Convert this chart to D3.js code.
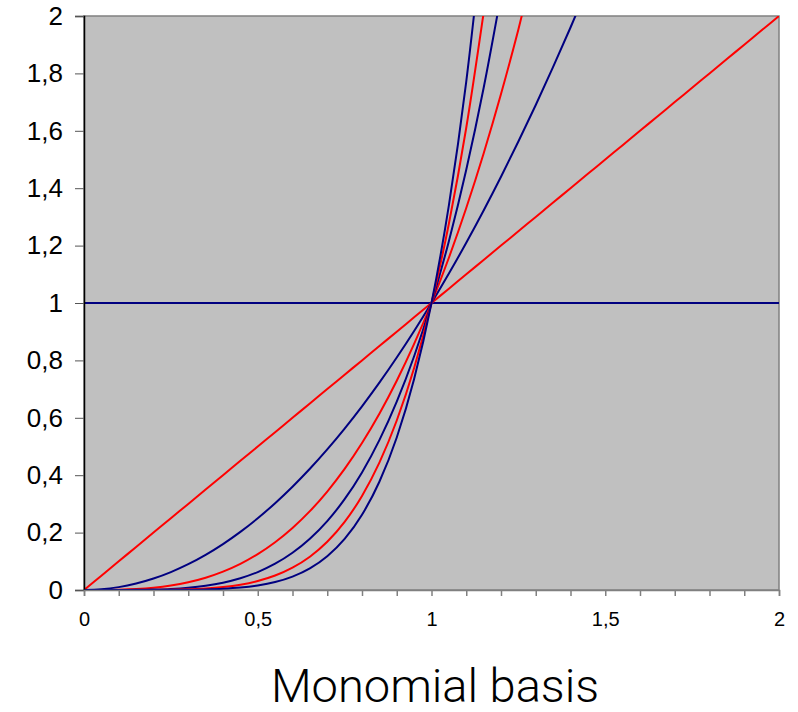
<!DOCTYPE html>
<html>
<head>
<meta charset="utf-8">
<script src="https://cdn.jsdelivr.net/npm/d3@7"></script>
<style>
  body { margin: 0; background: #fff; }
</style>
</head>
<body>
<div id="chart"></div>
<script>
// sample points (x from 0 to 2, step 0.05)
var xs = [0, 0.05, 0.1, 0.15, 0.2, 0.25, 0.3, 0.35, 0.4, 0.45, 0.5, 0.55, 0.6, 0.65, 0.7, 0.75, 0.8, 0.85, 0.9, 0.95,
          1, 1.05, 1.1, 1.15, 1.2, 1.25, 1.3, 1.35, 1.4, 1.45, 1.5, 1.55, 1.6, 1.65, 1.7, 1.75, 1.8, 1.85, 1.9, 1.95, 2];
var p0 = [1, 1, 1, 1, 1, 1, 1, 1, 1, 1, 1, 1, 1, 1, 1, 1, 1, 1, 1, 1, 1, 1, 1, 1, 1, 1, 1, 1, 1, 1, 1, 1, 1, 1, 1, 1, 1, 1, 1, 1, 1];
var p1 = [0, 0.05, 0.1, 0.15, 0.2, 0.25, 0.3, 0.35, 0.4, 0.45, 0.5, 0.55, 0.6, 0.65, 0.7, 0.75, 0.8, 0.85, 0.9, 0.95,
          1, 1.05, 1.1, 1.15, 1.2, 1.25, 1.3, 1.35, 1.4, 1.45, 1.5, 1.55, 1.6, 1.65, 1.7, 1.75, 1.8, 1.85, 1.9, 1.95, 2];
var p2 = [0, 0.0025, 0.01, 0.0225, 0.04, 0.0625, 0.09, 0.1225, 0.16, 0.2025, 0.25, 0.3025, 0.36, 0.4225, 0.49, 0.5625, 0.64, 0.7225, 0.81, 0.9025,
          1, 1.1025, 1.21, 1.3225, 1.44, 1.5625, 1.69, 1.8225, 1.96, 2.1025];
var p3 = [0, 0.000125, 0.001, 0.003375, 0.008, 0.015625, 0.027, 0.042875, 0.064, 0.091125, 0.125, 0.166375, 0.216, 0.274625, 0.343, 0.421875, 0.512, 0.614125, 0.729, 0.857375,
          1, 1.157625, 1.331, 1.520875, 1.728, 1.953125, 2.197];
var p4 = [0, 0.000006, 0.0001, 0.000506, 0.0016, 0.003906, 0.0081, 0.015006, 0.0256, 0.041006, 0.0625, 0.091506, 0.1296, 0.178506, 0.2401, 0.316406, 0.4096, 0.522006, 0.6561, 0.814506,
          1, 1.215506, 1.4641, 1.749006, 2.0736];
var p5 = [0, 0, 0.00001, 0.000076, 0.00032, 0.000977, 0.00243, 0.005252, 0.01024, 0.018453, 0.03125, 0.050328, 0.07776, 0.116029, 0.16807, 0.237305, 0.32768, 0.443705, 0.59049, 0.773781,
          1, 1.276282, 1.61051, 2.011357];
var p6 = [0, 0, 0.000001, 0.000011, 0.000064, 0.000244, 0.000729, 0.001838, 0.004096, 0.008304, 0.015625, 0.02768, 0.046656, 0.075419, 0.117649, 0.177979, 0.262144, 0.37715, 0.531441, 0.735092,
          1, 1.340096, 1.771561, 2.313061];
var series = [p0, p1, p2, p3, p4, p5, p6];
var colors = ["#000080", "#ff0000"];

var yTicks = [0, 0.2, 0.4, 0.6, 0.8, 1, 1.2, 1.4, 1.6, 1.8, 2];
var xLabelTicks = [0, 0.5, 1, 1.5, 2];
var xMinorTicks = [0, 0.1, 0.2, 0.3, 0.4, 0.5, 0.6, 0.7, 0.8, 0.9, 1, 1.1, 1.2, 1.3, 1.4, 1.5, 1.6, 1.7, 1.8, 1.9, 2];
var title = "Monomial basis";

var W = 798, H = 712;
var margin = { top: 16, right: 19, bottom: 122, left: 84 },
    width = W - margin.left - margin.right,
    height = H - margin.top - margin.bottom;

var fmt = d3.formatLocale({ decimal: ",", thousands: ".", grouping: [3], currency: ["", ""] }).format("~g");

var svg = d3.select("#chart").append("svg")
    .attr("width", W)
    .attr("height", H);

var xScale = d3.scaleLinear().domain([0, 2]).range([0, width]);
var yScale = d3.scaleLinear().domain([0, 2]).range([height, 0]);

var chart = svg.append("g")
    .attr("transform", "translate(" + margin.left + "," + margin.top + ")");

chart.append("clipPath").attr("id", "clip")
    .append("rect").attr("width", width).attr("height", height);

// plot area
chart.append("rect")
    .attr("width", width)
    .attr("height", height)
    .attr("fill", "#c0c0c0")
    .attr("stroke", "#808080")
    .attr("stroke-width", 1.5);

var line = d3.line()
    .x(function (d) { return xScale(d[0]); })
    .y(function (d) { return yScale(d[1]); })
    .curve(d3.curveMonotoneX);

chart.append("g").attr("clip-path", "url(#clip)")
    .selectAll("path")
    .data(series)
    .enter()
    .append("path")
    .attr("d", function (ys) { return line(ys.map(function (y, i) { return [xs[i], y]; })); })
    .attr("fill", "none")
    .attr("stroke", function (d, i) { return colors[i % 2]; })
    .attr("stroke-width", 2);

// y axis
var yAxis = chart.append("g")
    .call(d3.axisLeft(yScale).tickValues(yTicks).tickFormat(fmt).tickSize(9).tickPadding(12));
yAxis.select(".domain").attr("stroke", "#000").attr("stroke-width", 1.5);
yAxis.selectAll(".tick line").attr("stroke", "#555");
yAxis.selectAll("text")
    .attr("font-family", "Liberation Sans, Arial, sans-serif")
    .attr("font-size", "26px")
    .attr("fill", "#000");

// x axis: minor ticks every 0.1, labels every 0.5
var xAxis = chart.append("g")
    .attr("transform", "translate(0," + height + ")")
    .call(d3.axisBottom(xScale).tickValues(xMinorTicks).tickFormat("").tickSize(6));
xAxis.select(".domain").attr("stroke", "#808080").attr("stroke-width", 1.5);
xAxis.selectAll(".tick line").attr("stroke", "#808080").attr("stroke-width", 1.5);

chart.append("g")
    .attr("transform", "translate(0," + height + ")")
    .call(d3.axisBottom(xScale).tickValues(xLabelTicks).tickFormat(fmt).tickSize(0).tickPadding(22))
    .call(function (g) { g.select(".domain").remove(); })
    .selectAll("text")
    .attr("font-family", "Liberation Sans, Arial, sans-serif")
    .attr("font-size", "20px")
    .attr("fill", "#000");

// title
svg.append("text")
    .attr("x", 435)
    .attr("y", 702)
    .attr("text-anchor", "middle")
    .attr("font-family", "Roboto")
    .attr("font-weight", 300)
    .attr("font-size", "47px")
    .attr("fill", "#000")
    .text(title);
</script>
</body>
</html>
